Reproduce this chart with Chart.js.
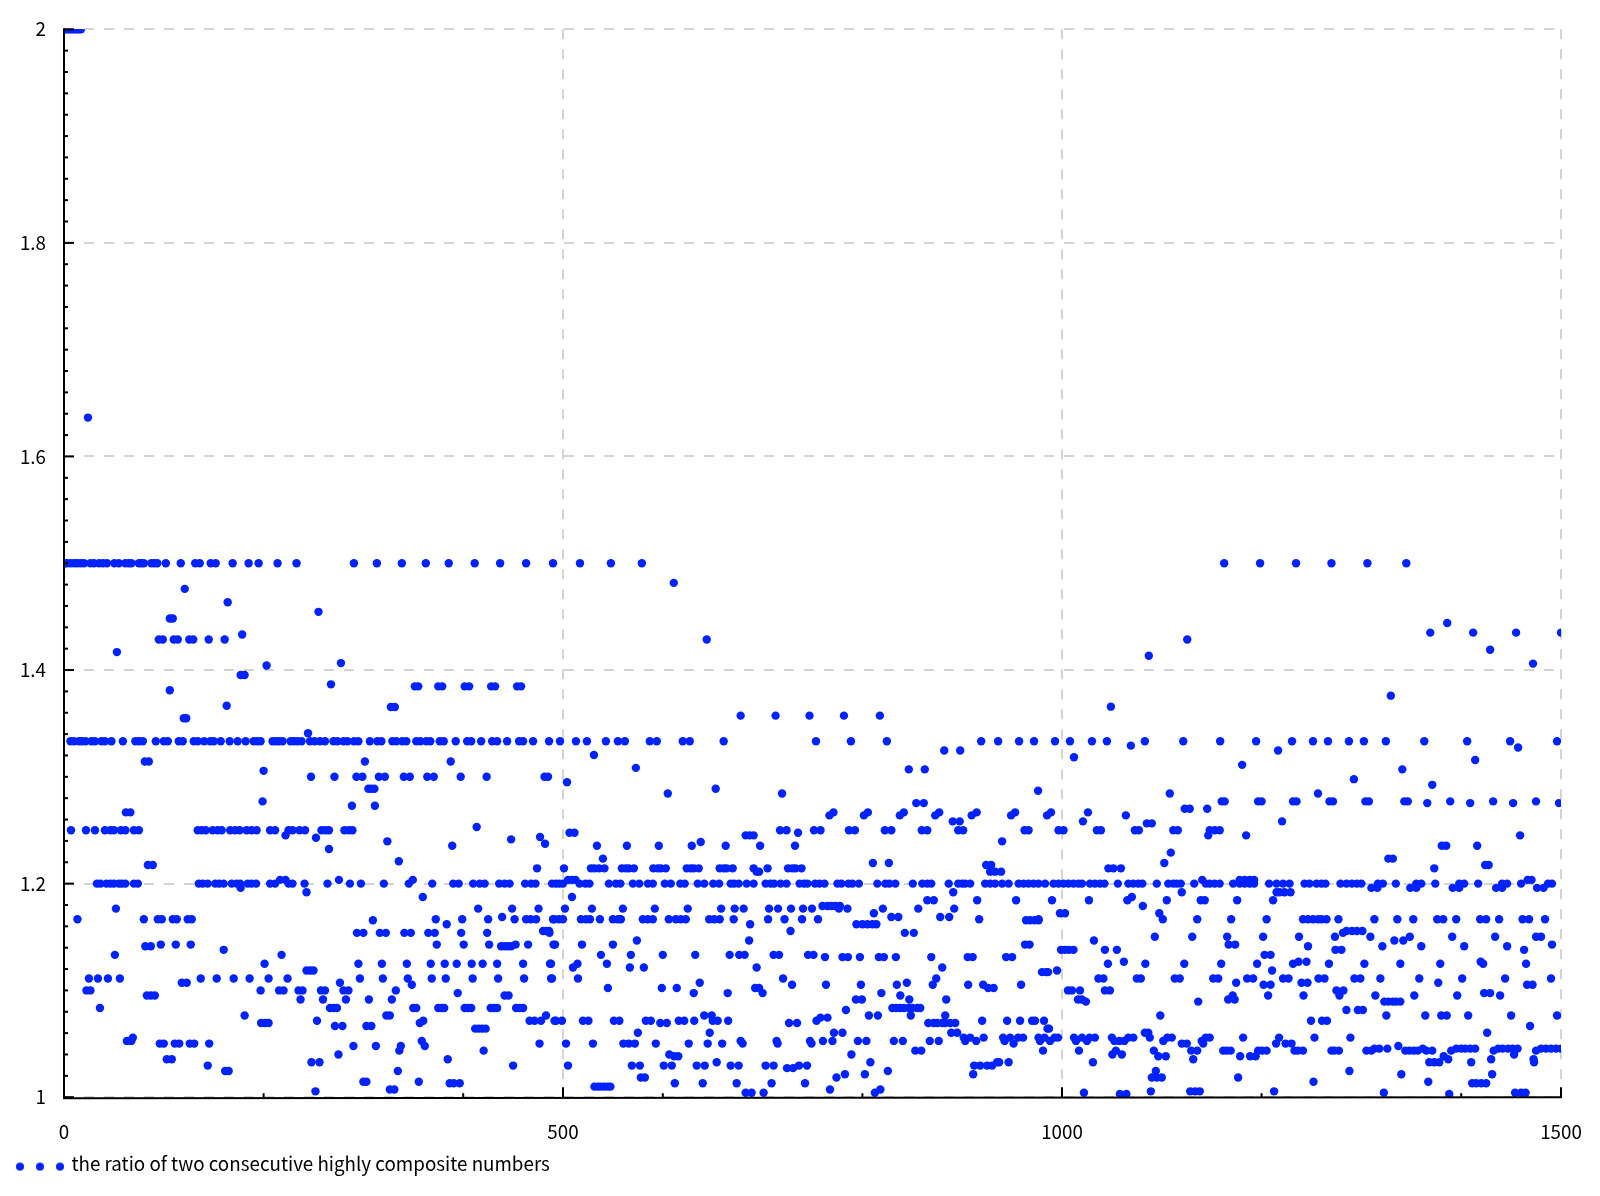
<!DOCTYPE html>
<html><head><meta charset="utf-8">
<style>html,body{margin:0;padding:0;background:#fff}canvas{display:block}</style>
<script src="https://cdn.jsdelivr.net/npm/chart.js@4"></script>
</head><body><canvas id="c" width="1600" height="1196"></canvas>
<script>
const seriesName = "the ratio of two consecutive highly composite numbers";
const xTickValues = [0,200,400,500,600,800,1000,1200,1400,1500];
const xTickLabels = [0,500,1000,1500];

// Each row: [ratio, [indexes at that ratio]]
const rowsHigh = [
[2,[1,3,5,7,9,11,13,15,17]],
[1.6364,[24]],
[1.5,[1,3,6.5,10,13,16.5,20,26.5,30,35,39,43,50.5,55,61.5,65,67.5,75,77.5,80,87.5,90.5,93.5,102,117,131.5,136,147,152,169,185,195,214,233,290.5,313.5,338.5,362.5,385.5,411.5,437,463,490,517,548,579,1162.5,1198.5,1234.5,1270,1306,1345]],
[1.4286,[95,99,110,114,125.5,129.5,145,161,644,1125.5]],
[1.4482,[106,109]],
[1.435,[1369,1412,1455,1500]],
[1.3847,[351.5,355,375,379,401.5,406,428,432,454,458]],
[1.3953,[177,181]],
[1.3654,[327.5,331.5]],
[1.3548,[120,122.5]],
[1.3573,[678,713,747,781.5,817.5]],
[1.3333,[6.5,10,15,18,21.5,27.5,31,37.5,41,47.5,59,71.5,75,79,92,100,104,115,119,130,134,140.5,146.5,150,157,166,174,182,190,193.5,197,209,212,215.5,219,227,230.5,234,238,246.5,251,256.5,261.5,270,274,280,284,290.5,295,306.5,314,318,329,333,339,343,353,357,363,367,376.5,380.5,392.5,404,408,418,429,434,444,456,460,470,486,497,513,524,543,555,562,587,594,620,627,661,753.5,788.5,824.5,919,936,957,972,993,1008,1030,1045,1083,1121.5,1158.5,1194.5,1230.5,1251.5,1266.5,1287.5,1302.5,1324.5,1363,1406,1449,1496]],
[1.3246,[882,898,1216.5]],
[1.3143,[81,85,301.5,387.5]],
[1.307,[846.5,862.5,1341]],
[1.3,[247.5,271,293,299,315.5,321.5,340.5,346.5,364,370.5,397.5,423.5,481.5,485]],
[1.2888,[305,308,311,653]],
[1.2844,[605,719.5,1108,1256.5]],
[1.277,[1160,1163,1196.5,1200,1231.5,1235,1268,1271.5,1304,1307.5,1343,1346.5,1389,1432,1475,199]],
[1.2754,[854,861.5,1366,1409,1452,1498]],
[1.2729,[288.5,311.5]],
[1.2701,[1123,1128,1145.5]],
[1.2667,[62,66.5,771,805.5,841.5,877,914.5,953,989,1026]],
[1.2639,[767,801.5,837.5,873,909.5,949,985,1064]],
[1.2583,[890.5,897.5,1021,1220.5]],
[1.2564,[1085,1090]],
[1.25,[7,22,31,41,46.5,50,57,61.5,70,75,134,138,142,149,154,158,166.5,171.5,176,183,188,193,206.5,211.5,225,229,236,241.5,258,262,265.5,281,285.5,289,717.5,724,751.5,758,786.5,792.5,822.5,829,859.5,865,896,901,962.5,966.5,996.5,1001.5,1035,1039,1073,1077,1111.5,1116,1148,1153,1158]],
[1.2477,[506.5,511.5,735.5]],
[1.2452,[222,683,687,691,1184.5,1146.5,1459]],
[1.2355,[534,564,596,629,663,697.5,732.5,389,1380.5,1385,1416]]
];
const rowsMiddle = [
[1.2143,[501,528,531.5,536,541.5,559,563,566,571,590.5,595,598,603,624,628,631,636,657,661,664,670,691,705,725.5,730,733,739,474,1046.5,1051.5,1059,1373]],
[1.2174,[84,89,924,929,1424,1427.5]],
[1.2112,[694,696.5,928,933,939]],
[1.2193,[810.5,826.5,1102.5]],
[1.2234,[1327,1331.5,540]],
[1.2035,[216.5,222,275.5,349.5,505,509,512.5,1178,1183,1188,1192.5,1466.5,1470.5,1140.5]],
[1.2,[33,36.5,42.5,46.5,50,55,58,61.5,70,74,135,139,144,151.5,155.5,160,168,173,176.5,184,188,192.5,206.5,211.5,225,229,241,264,286.5,297.5,320.5,345.5,369,390,395.5,410,416.5,421.5,436,441.5,446.5,462,468,472.5,489,493,496.5,500,516.5,522.5,526.5,546,553,557.5,570,576.5,585,590,602,608,617.5,622,635,641.5,650.5,656.5,668,671.5,676,684,691,703,708,711.5,718,724,737,741.5,745,752.5,757,762,775,779,786,790,796.5,815,823,827,833,850.5,860,865,869,886.5,896,900,903,908,923,928,933,940,946.5,956.5,961.5,966.5,971.5,976.5,983,991.5,996.5,1001.5,1006.5,1011.5,1016.5,1020,1028,1033,1038,1042.5,1056,1066.5,1071.5,1076.5,1080.5,1095,1106.5,1111.5,1115,1119,1132.5,1144,1148,1153,1158,1171.5,1178,1183,1188,1192.5,1207.5,1215,1221.5,1228,1243,1248,1255,1260,1264,1279,1285,1290.5,1295.5,1300,1316.5,1321.5,1334.5,1355,1360,1374,1398,1403,1417,1441,1446,1460,1487,1491]],
[1.196,[177,1310,1316,1349,1355,1391.5,1398,1435,1441,1476,1482.5]],
[1.1919,[243,891,1215,1218,1223,1229,1120]],
[1.1875,[359.5,509,1070]],
[1.1844,[865,871.5,915,954,990,1027,1065.5,1105,1143,1175.5,1211.5,1139]],
[1.1791,[760,765,769,773,777.5,1081]],
[1.1766,[52,449,475.5,415,502,529,560,592,625,658.5,672,681,706.5,715.5,728.5,740.5,749.5,776.5,785,820.5,856,892]],
[1.1723,[811.5,998,1003,1097.5]],
[1.1688,[439,829,836,878,887]],
[1.1667,[13.5,80,94,98,109,113,124,128,372.5,399,425,451.5,463,467.5,473,490,491.5,496,500,518,523,527,537,550,555,558,580,585,590,606,613,618,623,646.5,651.5,657,671,705.5,722,739.5,755.5,917,976.5,1101,1135.5,1169.5,1205,1241.5,1246.5,1251.5,1256.5,1260,1265,1277,1313,1336,1352,1376,1382,1395,1419,1425,1438,1461.5,1468,1484]],
[1.1657,[964,968,972.5,976.5,309.5]],
[1.162,[794,800,805,810,814,687.5,383.5]],
[1.1556,[480,483,486,728,1285,1290.5,1295.5,1301]],
[1.1539,[293.5,300,316.5,322.5,341,347.5,365,371.5,398,424,486.5,842.5,851.5,1281.5]],
[1.1502,[1093,1130.5,1165.5,1201.5,1237.5,1273.5,1309,1348.5,1391,1434,1475,1480]],
[1.1467,[686.5,574,1032,1333,1342]],
[1.1429,[97,112,127,373.5,400.5,426,452.5,465,490.5,492,519,550,963,967.5,1167,1173.5,1491]],
[1.1414,[81.5,87,438,441.5,445,448,1246.5,1321,1360,1403,1446]],
[1.138,[160,999,1003,1007,1011.5,1043,1055,1274,1280,1463]],
[1.1333,[51,538,568,600,632.5,667,676.5,682,711,716.5,745.5,751,218,1203,1209]],
[1.1312,[762.5,780,785.5,797.5,816.5,821.5,833.5,869,905.5,910.5,944,950]],
[1.1268,[1062,1237,1245,1419.5]]
];
const rowsLower = [
[1.125,[295,318.5,343.5,367.5,381.5,393.5,408.5,419.5,434,460,487,488,514.5,544,201,1046,1083.5,1122.5,1159.5,1195.5,1231.5,1267.5,1303,1339,1379,1422,1465]],
[1.1215,[567,581,694,510,880]],
[1.1187,[243,246.5,250,1210.5,995]],
[1.1171,[980,984,986]],
[1.1111,[25,34,44,56,137,153,170,186,205,224,296.5,319.5,344.5,368.5,382.5,409.5,435,461,488,489,515,720.5,874,1036.5,1041.5,1075,1079,1113,1118,1151.5,1156.5,1185.5,1191.5,1221.5,1227,1257,1263,1293,1299,1319,1358,1401,1444,1490]],
[1.1072,[118,123,637,844.5,276.5,1174.5,1240,1246,1377]],
[1.1053,[348.5,729.5,763.5,798.5,834.5,870.5,906,921,959,1202,1209,1466,1471.5]],
[1.1022,[926,931.5,692.5,545,599,614,696.5]],
[1.1,[22.5,26.5,197,215.5,220,235,239,257.5,261.5,280,285,332.5,1006,1010,1018,1043,1048,1275,1282]],
[1.0975,[394.5,631,665,700,819,1423,1429]],
[1.0953,[83,87,91,441.5,445.5,838,1353,1314,1396,1439,1206.5,1242,1278,1171]],
[1.0915,[237,259.5,282.5,305.5,328.5,847,793.5,799.5,884,1166.5,1173,1016,1020]],
[1.0895,[1024,1136.5,1323,1327,1331.5,1335,1339]],
[1.0835,[36,266.5,270,273.5,350,353,375,378,381,401.5,405,408,427.5,431,434,453,456.5,460,830,834,838,841.5,846.5,850,855,858]],
[1.0816,[783.5,1285,1296.5,1301.5]],
[1.0765,[181,323,326.5,483,848.5,806.5,815.5,641.5,649,883,1098.5,1325,1364,1380,1385.5,1407,1450,1496]],
[1.0716,[253.5,466.5,471.5,478,491.5,493,499,520,525.5,551,556.5,583,588,616,621.5,631.5,650,655,665.5,360,754,920,945,958,970,973,982,1249.5,1260.5,1265.5]],
[1.0745,[758,765]],
[1.0695,[197.5,201.5,205,866,871.5,875,880,883,888,893,597.5,604,726.5,734.5,356.5]],
[1.0667,[271.5,279,303,308,1469]],
[1.0642,[412,415.5,419,422.5,985.5,987]],
[1.0604,[575,771.5,780,889,895,647,1083,1086.5,1426]],
[1.0558,[69,901.5,908,921.5,941,956,961,976.5,982.5,992.5,996,1012,1020,1027.5,1033,1050,1066.5,1071.5,1088,1105.5,1110,1144,1148,1181.5,1217.5,1253,1289,948]],
[1.0527,[63,67.5,358.5,678,714,747.5,760.5,770,795.5,804,831.5,840.5,867.5,876.5,903,914,942.5,978,988,1014,1025,1052.5,1057.5,1062.5,1101.5,1140]],
[1.0502,[96,100,111,115.5,126,130.5,145.5,476.5,503,530,560.5,566,572,593,626,645,659.5,680,715,749,951.5,1120,1125,1141.5,1214.5,1224,1230]],
[1.048,[290,312.5,337.5,361.5,1337]],
[1.0455,[1326,1313,1318,1395,1400,1404,1409,1414,1437,1441.5,1447,1451.5,1456.5,1361.5,1480,1485,1490,1495,1500]],
[1.0436,[336,420.5,853,859,981,1017,1054,1092,1129.5,1135.5,1161.5,1165,1169,1196.5,1200.5,1205,1233,1236.5,1241.5,1270,1273,1277.5,1305,1310,1344,1348,1352.5,1356.5,1365,1371,1390,1432.5,1475]]
];
const rowsLowest = [
[1.04,[275,606.5,789,1050.5,1060,1453]],
[1.0383,[611.5,615.5,1096.5,1104,1178.5,1188.5,1194,1382.5]],
[1.0355,[103,108,384.5,1131.5,1387,1430,1472.5]],
[1.0327,[248,256,654,935,937,946.5,808,1031,1410,1473,1368,1373,1378]],
[1.0296,[505,569,577,601,609,634,642,668,676,703,711,736.5,744.5,912,918,925,930,144,450]],
[1.0272,[724.5,730.5]],
[1.0245,[161.5,165,334.5,825.5,1094,1288]],
[1.0215,[782.5,802.5,911,1340,1431]],
[1.0185,[578,582,774,1090,1095,1100,1176.5]],
[1.0145,[300,303,355.5,1252,1367]],
[1.013,[386.5,390.5,396.5,612,640,674,709,742.5,1411,1415,1420,1425]],
[1.0099,[531.5,535,538,541.5,545,547.5]],
[1.0072,[326.5,331,767.5,818]],
[1.0055,[252,1089,1128.5,1133.5,1138,1212.5]],
[1.0042,[683,689,701,812.5,1022,1322.5,1454,1460,1464.5]],
[1.003,[1058,1064.5,1388]]
];
// Single marks that sit on no shared row: [index, ratio]
const loosePoints = [
[53,1.4168],[121,1.476],[178.5,1.4333],[164,1.4635],[203,1.4043],[255,1.4545],[277.5,1.4065],[267.5,1.3866],[106,1.381],[163,1.3666],
[244.5,1.3408],[200,1.3056],[531,1.3205],[573,1.3084],[504,1.295],[976,1.2869],[611,1.4816],[1087,1.4134],[1386,1.444],[1429,1.419],
[1472,1.406],[1049,1.3657],[1012,1.3183],[1069,1.3292],[1180.5,1.3112],[1329.5,1.376],[1292.5,1.2978],[1414,1.3158],[1457,1.3274],[1371,1.2925],
[252.5,1.243],[265.5,1.2324],[324,1.2396],[413.5,1.253],[448,1.2414],[477,1.2436],[482,1.2374],[335.5,1.2209],[638,1.2389],[940,1.2396],[1109,1.229]
];

const points = [];
for (const rows of [rowsHigh, rowsMiddle, rowsLower, rowsLowest])
  for (const [y, xs] of rows) for (const x of xs) points.push({x, y});
for (const [x, y] of loosePoints) points.push({x, y});

const markerColor = '#0022ff';
function legendSwatch(){
  const c = document.createElement('canvas'); c.width = 72; c.height = 20;
  const g = c.getContext('2d'); g.fillStyle = markerColor;
  for (const cx of [22,42,62]) { g.beginPath(); g.arc(cx, 13, 4, 0, Math.PI*2); g.fill(); }
  return c;
}
const swatch = legendSwatch();
const fontFamily = '"Noto Sans CJK JP","Noto Sans",sans-serif';
const isMajorY = v => Math.round(v*100) % 20 === 0;
const isMajorX = v => v % 500 === 0;

const inwardTicks = {
  id:'inwardTicks',
  afterDatasetsDraw(chart){
    const {ctx, chartArea:a, scales:{x,y}} = chart;
    ctx.save(); ctx.strokeStyle='#000'; ctx.lineWidth=2;
    for (const t of y.ticks){ const p=y.getPixelForValue(t.value), l=isMajorY(t.value)?10:4;
      ctx.beginPath(); ctx.moveTo(a.left,p); ctx.lineTo(a.left+l,p); ctx.stroke(); }
    for (const t of x.ticks){ const p=x.getPixelForValue(t.value), l=isMajorX(t.value)?10:4;
      ctx.beginPath(); ctx.moveTo(p,a.bottom); ctx.lineTo(p,a.bottom-l); ctx.stroke(); }
    ctx.beginPath(); ctx.moveTo(a.left,a.top-1); ctx.lineTo(a.left,a.bottom+1); ctx.lineTo(a.right+1,a.bottom); ctx.stroke();
    ctx.restore();
  }
};

new Chart(document.getElementById('c'), {
  type:'scatter',
  data:{datasets:[{label:seriesName,data:points,backgroundColor:markerColor,borderWidth:0,pointRadius:4.2,pointHoverRadius:4.2}]},
  plugins:[inwardTicks],
  options:{
    responsive:false, animation:false, devicePixelRatio:1,
    layout:{padding:{left:0,right:39,top:28,bottom:13}},
    scales:{
      x:{type:'linear',min:0,max:1500,
        afterBuildTicks:s=>{s.ticks=xTickValues.map(v=>({value:v}));},
        afterFit:s=>{s.height=51;s.paddingRight=0;s.paddingLeft=0;},
        ticks:{autoSkip:false,maxRotation:0,padding:23,color:'#000',font:{family:fontFamily,size:18.8},
          callback:v=>xTickLabels.includes(v)?String(v):''},
        grid:{drawTicks:false,lineWidth:2,color:c=>c.tick&&isMajorX(c.tick.value)?'#d3d3d3':'rgba(0,0,0,0)'},
        border:{display:false,dash:[10,10]}},
      y:{type:'linear',min:1,max:2,
        afterBuildTicks:s=>{const t=[];for(let i=0;i<=50;i++)t.push({value:Math.round((1+i*0.02)*100)/100});s.ticks=t;},
        afterFit:s=>{s.width=64;},
        ticks:{autoSkip:false,padding:18,color:'#000',font:{family:fontFamily,size:18.8},
          callback:v=>isMajorY(v)?String(Math.round(v*10)/10):''},
        grid:{drawTicks:false,lineWidth:2,color:c=>c.tick&&isMajorY(c.tick.value)?'#d3d3d3':'rgba(0,0,0,0)'},
        border:{display:false,dash:[10,10]}}
    },
    plugins:{
      tooltip:{enabled:false},
      legend:{position:'bottom',align:'start',
        labels:{usePointStyle:true,pointStyleWidth:56,boxHeight:19,padding:6,color:'#000',font:{family:fontFamily,size:18.8},
          generateLabels:()=>[{text:seriesName,pointStyle:swatch,fillStyle:markerColor,strokeStyle:markerColor,lineWidth:0,hidden:false,datasetIndex:0}]}}
    }
  }
});
</script></body></html>
